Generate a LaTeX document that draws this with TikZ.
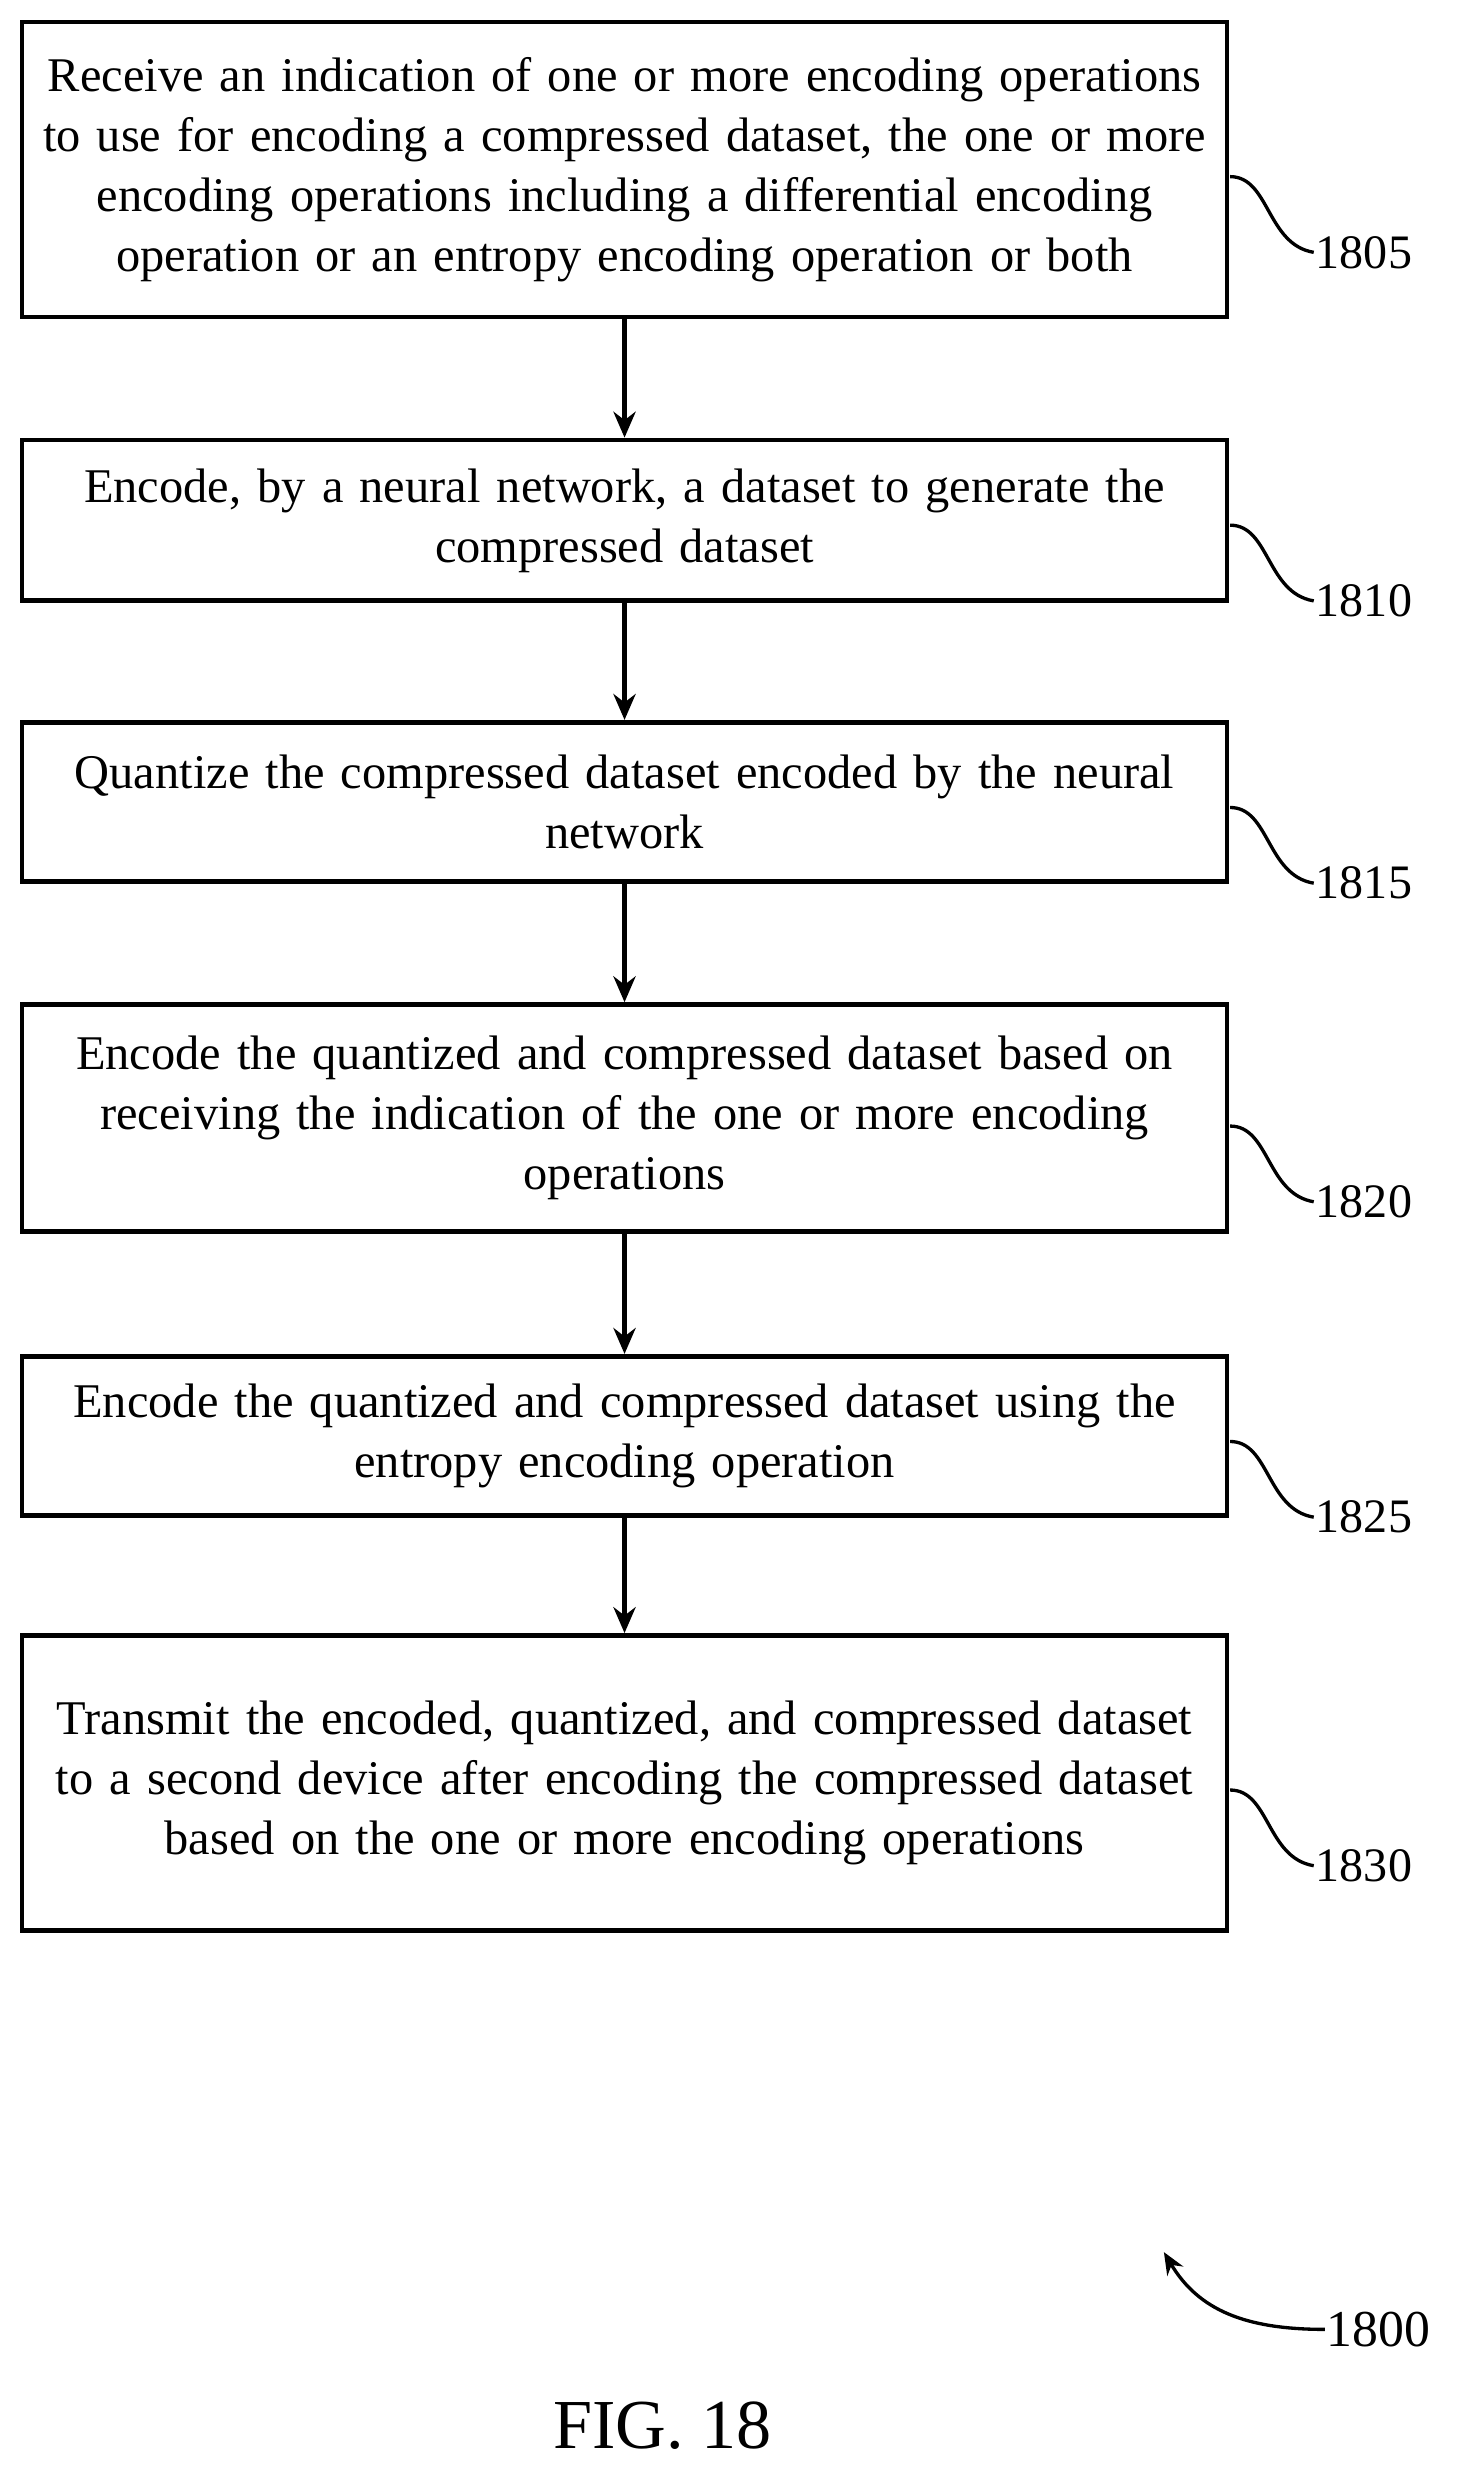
\documentclass[tikz,border=0pt]{standalone}
\usepackage{fontspec}
\setmainfont{Liberation Serif}
\usetikzlibrary{arrows.meta}
\begin{document}
\begin{tikzpicture}[x=0.3mm,y=-0.3mm,
  box/.style={draw,line width=2.6pt,minimum width=764*0.3mm,text width=762*0.3mm,align=center,inner sep=0pt,font=\fontsize{26.2}{32.5}\selectfont},
  lab/.style={font=\fontsize{26}{32}\selectfont,anchor=west,inner sep=1pt},
  arr/.style={line width=2.4pt,-{Stealth[length=14pt,width=12pt]}},
  sq/.style={line width=1.8pt}]
\useasboundingbox (0,0) rectangle (925,1563);
\node[box,minimum height=187*0.3mm] (b1) at (396,107.5) {Receive an indication of one or more encoding operations\\to use for encoding a compressed dataset, the one or more\\encoding operations including a differential encoding\\operation or an entropy encoding operation or both};
\node[box,minimum height=102*0.3mm] (b2) at (396,330) {Encode, by a neural network, a dataset to generate the\\compressed dataset};
\node[box,minimum height=101*0.3mm] (b3) at (396,508.5) {Quantize the compressed dataset encoded by the neural\\network};
\node[box,minimum height=144*0.3mm] (b4) at (396,709) {Encode the quantized and compressed dataset based on\\receiving the indication of the one or more encoding\\operations};
\node[box,minimum height=101*0.3mm] (b5) at (396,910.5) {Encode the quantized and compressed dataset using the\\entropy encoding operation};
\node[box,minimum height=187*0.3mm] (b6) at (396,1130.5) {Transmit the encoded, quantized, and compressed dataset\\to a second device after encoding the compressed dataset\\based on the one or more encoding operations};
\draw[arr] (b1) -- (b2);
\draw[arr] (b2) -- (b3);
\draw[arr] (b3) -- (b4);
\draw[arr] (b4) -- (b5);
\draw[arr] (b5) -- (b6);
\foreach \b/\n/\y in {b1/1805/160,b2/1810/381,b3/1815/560,b4/1820/762,b5/1825/962,b6/1830/1183}{
  \node[lab] (l\n) at (833,\y) {\n};
  \draw[sq] (780,\y-48) .. controls (805,\y-48) and (803,\y-5) .. (l\n.west);
}
\node[lab,font=\fontsize{28}{34}\selectfont] (l1800) at (840,1477) {1800};
\coordinate (t1800) at (738,1428);
\draw[line width=1.8pt,-{Stealth[length=12pt,width=10pt]}] (l1800.west) .. controls (790,1477) and (760,1465) .. (t1800);
\node[font=\fontsize{38}{44}\selectfont] (fig) at (420,1538) {FIG. 18};
\end{tikzpicture}
\end{document}
